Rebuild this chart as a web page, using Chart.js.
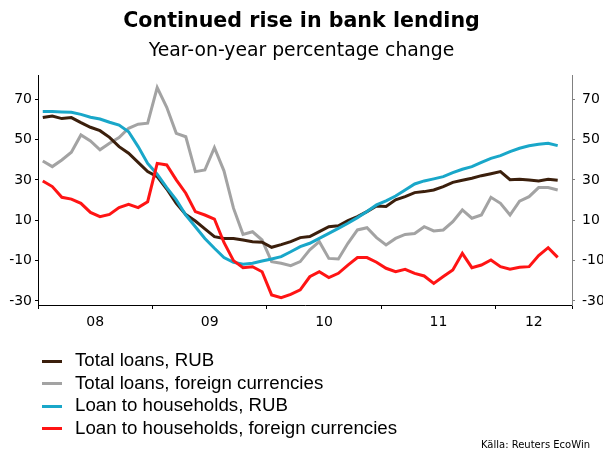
<!DOCTYPE html>
<html>
<head>
<meta charset="utf-8">
<script src="https://cdn.jsdelivr.net/npm/chart.js@4.4.1/dist/chart.umd.min.js"></script>
<style>
  body { margin: 0; background: #fff; }
  #wrap { position: relative; width: 603px; height: 454px; overflow: hidden; }
  #title { position: absolute; left: 0; top: 8px; width: 603px; text-align: center;
    font: bold 20.6px "DejaVu Sans", sans-serif; color: #000; }
  #subtitle { position: absolute; left: 0; top: 39px; width: 603px; text-align: center;
    font: 18.8px "DejaVu Sans", sans-serif; color: #000; }
  #legend { position: absolute; left: 42px; top: 349px; font: 18.7px "Liberation Sans", Arial, sans-serif; color: #000; }
  #legend .row { height: 22.5px; line-height: 22.5px; white-space: nowrap; }
  #legend .swatch { display: inline-block; width: 20px; height: 3px; vertical-align: middle; margin-right: 13px; }
  #source { position: absolute; right: 13px; top: 439px; font: 10px "DejaVu Sans", sans-serif; color: #000; }
</style>
</head>
<body>
<div id="wrap">
  <canvas id="myChart" width="603" height="454"></canvas>
  <div id="title">Continued rise in bank lending</div>
  <div id="subtitle">Year-on-year percentage change</div>
  <div id="legend"></div>
  <div id="source">Källa: Reuters EcoWin</div>
</div>
<script>
// monthly values, Jan 2008 - Jul 2012
const totalRub = [60.9, 61.7, 60.4, 60.9, 58.4, 56.1, 54.4, 51.1, 46.5, 43.2, 38.7, 34.1,
  31.6, 25.5, 18.4, 12.8, 9.6, 5.7, 1.9, 1.0, 1.0, 0.2, -0.6, -0.9,
  -3.4, -2.1, -0.6, 1.4, 1.9, 4.4, 6.8, 7.3, 9.8, 11.8, 14.3, 17.1,
  16.8, 20.1, 21.7, 23.7, 24.2, 25.0, 26.7, 28.8, 29.8, 30.8, 32.1, 33.1,
  34.1, 30.1, 30.3, 30.0, 29.5, 30.3, 29.8];
const totalFx = [39.4, 36.6, 39.9, 43.7, 52.3, 49.3, 44.9, 48.2, 51.0, 55.6, 57.6, 58.1,
  75.8, 66.0, 53.1, 51.4, 34.1, 34.9, 46.0, 34.5, 16.0, 3.0, 4.3, 0.2,
  -10.5, -11.3, -12.5, -10.5, -4.7, -0.6, -8.9, -9.2, -1.4, 5.2, 6.3, 1.4,
  -2.2, 1.0, 3.0, 3.4, 6.8, 4.7, 5.2, 9.3, 15.1, 11.0, 12.6, 21.4,
  18.4, 12.6, 19.5, 21.7, 26.2, 26.2, 25.0];
const hhRub = [63.9, 63.9, 63.7, 63.5, 62.5, 61.1, 60.2, 58.6, 57.2, 53.9, 46.5, 38.2,
  32.8, 26.2, 20.1, 12.6, 6.8, 1.0, -3.9, -8.5, -10.8, -11.8, -11.3, -10.2,
  -9.2, -8.0, -5.6, -3.1, -1.4, 1.0, 3.5, 6.0, 8.5, 11.3, 14.3, 17.6,
  19.6, 22.0, 25.0, 28.0, 29.5, 30.5, 31.6, 33.6, 35.3, 36.6, 38.7, 40.7,
  42.0, 44.0, 45.7, 46.9, 47.7, 48.2, 47.0];
const hhFx = [29.5, 26.7, 21.4, 20.5, 18.4, 13.9, 11.8, 12.9, 16.3, 17.9, 16.3, 19.2,
  38.2, 37.4, 30.0, 23.4, 14.3, 12.6, 10.6, -1.0, -10.0, -13.5, -13.0, -15.5,
  -27.0, -28.4, -26.7, -24.5, -18.0, -15.5, -18.4, -16.3, -12.2, -8.5, -8.5, -10.8,
  -13.8, -15.5, -14.3, -16.3, -17.6, -21.3, -17.9, -14.6, -6.4, -13.5, -12.2, -9.7,
  -13.0, -14.3, -13.3, -13.0, -7.5, -3.6, -8.4];

const seriesNames = ['Total loans, RUB', 'Total loans, foreign currencies',
  'Loan to households, RUB', 'Loan to households, foreign currencies'];
const seriesColors = ['#3b1f0c', '#a3a3a3', '#19a7c9', '#ff1414'];

const yearLabels = ['08', '09', '10', '11', '12'];
const yearLabelPos = [6, 18, 30, 42, 52];   // months from Jan 2008
const yearBreaks = [0, 12, 24, 36, 48, 56];
const yTicks = [-30, -10, 10, 30, 50, 70];

const toPoints = arr => arr.map((v, i) => ({ x: i + 0.5, y: v }));

const allSeries = [totalRub, totalFx, hhRub, hhFx];
const drawOrder = [2, 3, 1, 0];

const tickFont = { family: 'DejaVu Sans', size: 14 };

const yAxis = (pos, w, col, pad) => ({
  position: pos,
  min: -32,
  max: 82,
  afterBuildTicks: s => { s.ticks = yTicks.map(v => ({ value: v })); },
  afterFit: s => { s.width = w; },
  grid: { drawOnChartArea: false, tickLength: 3, color: col },
  border: { color: col, width: 1 },
  ticks: { padding: pad, color: '#000', font: tickFont }
});

const ctx = document.getElementById('myChart').getContext('2d');
new Chart(ctx, {
  type: 'line',
  data: {
    datasets: allSeries.map((arr, i) => ({
      label: seriesNames[i],
      data: toPoints(arr),
      borderColor: seriesColors[i],
      backgroundColor: seriesColors[i],
      borderWidth: 3,
      pointRadius: 0,
      tension: 0,
      fill: false,
      order: drawOrder[i]
    }))
  },
  options: {
    responsive: false,
    animation: false,
    layout: { padding: { top: 75, bottom: 119, left: 0, right: 0 } },
    plugins: { legend: { display: false }, tooltip: { enabled: false }, title: { display: false } },
    scales: {
      x: {
        type: 'linear',
        min: 0,
        max: 56,
        afterBuildTicks: s => {
          s.ticks = yearBreaks.concat(yearLabelPos).sort((a, b) => a - b).map(v => ({ value: v }));
        },
        afterFit: s => { s.height = 30; },
        grid: {
          drawOnChartArea: false,
          tickLength: 4,
          color: c => (c.tick && yearBreaks.includes(c.tick.value)) ? '#000' : 'rgba(0,0,0,0)'
        },
        border: { color: '#000', width: 1 },
        ticks: {
          autoSkip: false,
          maxRotation: 0,
          padding: 5,
          color: '#000',
          font: tickFont,
          callback: v => {
            const k = yearLabelPos.indexOf(v);
            return k >= 0 ? yearLabels[k] : '';
          }
        }
      },
      y: yAxis('left', 38, '#000', 3),
      y2: yAxis('right', 31, '#808080', 7)
    }
  }
});

// legend rows
const legend = document.getElementById('legend');
seriesNames.forEach((name, i) => {
  const row = document.createElement('div');
  row.className = 'row';
  row.innerHTML = '<span class="swatch" style="background:' + seriesColors[i] + '"></span>' + name;
  legend.appendChild(row);
});
</script>
</body>
</html>
